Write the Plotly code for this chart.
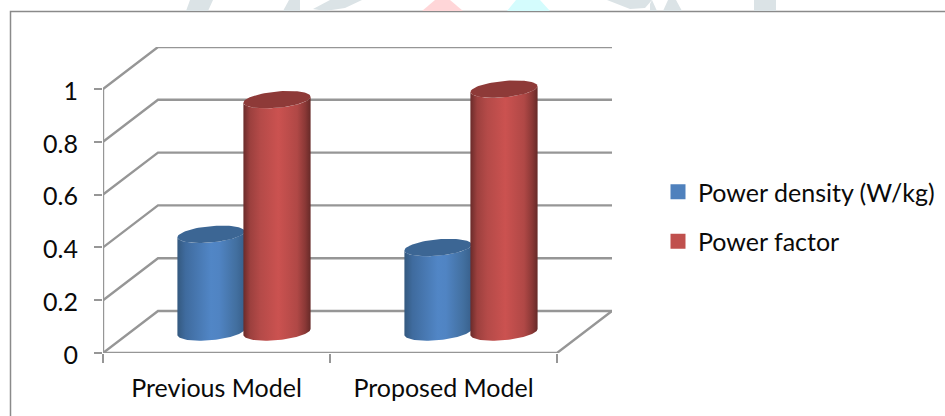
import numpy as np
import plotly.graph_objects as go

# Chart values
categories = ["Previous Model", "Proposed Model"]
series_names = ["Power density (W/kg)", "Power factor"]
power_density = [0.37, 0.32]
power_factor = [0.88, 0.92]
y_ticks = [0, 0.2, 0.4, 0.6, 0.8, 1]
y_tick_labels = ["0", "0.2", "0.4", "0.6", "0.8", "1"]

WIDTH, HEIGHT = 945, 416
FONT = "Lato"
FONT_SIZE = 25
TEXT = "#0a0a0a"
GRID = "#969696"

# Plot frame in pixels: the front face plus the receding wall
LEFT, RIGHT_FRONT, RIGHT_BACK = 103, 557, 612
BASE, TOP_FRONT, TOP_BACK = 353, 89, 47
X_UNIT = (RIGHT_FRONT - LEFT) / len(categories)
Y_UNIT = BASE - TOP_FRONT

# Oblique projection: one unit of depth shifts a point right and up, in axis units
DEPTH_X = (RIGHT_BACK - RIGHT_FRONT) / X_UNIT
DEPTH_Y = (TOP_FRONT - TOP_BACK) / Y_UNIT


def project(x, y, depth):
    return np.asarray(x) + DEPTH_X * np.asarray(depth), np.asarray(y) + DEPTH_Y * np.asarray(depth)


def polyline(segments):
    xs, ys = [], []
    for seg in segments:
        xs += [p[0] for p in seg] + [None]
        ys += [p[1] for p in seg] + [None]
    return xs, ys


fig = go.Figure()

# Back wall, side wall and floor rules
x_end = len(categories)
segments = []
for v in y_ticks:
    a = project(0, v, 0)
    b = project(0, v, 1)
    c = project(x_end, v, 1)
    segments.append([a, b, c])
segments.append([project(0, 0, 0), project(x_end, 0, 0), project(x_end, 0, 1)])
segments.append([project(0, 0, 0), project(0, 1, 0)])
xs, ys = polyline(segments)
fig.add_trace(go.Scatter(x=xs, y=ys, mode="lines", line=dict(color=GRID, width=2.4),
                         hoverinfo="skip", showlegend=False, cliponaxis=False))

# Cylinder footprint as a fraction of a category and of the depth
RADIUS_X = 31.6 / X_UNIT
RADIUS_DEPTH = 0.207
SPACING = 33 / X_UNIT

styles = [
    dict(cap="#3c6694", key="#4f81bd",
         scale=[[0, "#34597f"], [0.12, "#3f6b9e"], [0.5, "#5186c6"], [0.62, "#5084c3"],
                [0.88, "#426f9f"], [1, "#38608c"]]),
    dict(cap="#8e3a38", key="#c0504d",
         scale=[[0, "#6a2b2a"], [0.1, "#9c403e"], [0.25, "#b44a48"], [0.52, "#cb5250"],
                [0.8, "#b04846"], [0.92, "#8a3836"], [1, "#662a28"]]),
]


def ring(cx, value, t):
    return project(cx + RADIUS_X * np.cos(t), np.full_like(t, value), 0.5 + RADIUS_DEPTH * np.sin(t))


def add_cylinder(cx, value, style, name):
    # Silhouette angles: where the projected circle reaches its left and right extremes
    tilt = np.arctan2(RADIUS_DEPTH * DEPTH_X, RADIUS_X)
    front = np.linspace(np.pi + tilt, 2 * np.pi + tilt, 60)
    top_x, top_y = ring(cx, value, front)
    low_x, low_y = ring(cx, 0, front[::-1])
    fig.add_trace(go.Scatter(
        x=np.r_[top_x, low_x, top_x[0]], y=np.r_[top_y, low_y, top_y[0]],
        mode="lines", line=dict(width=0), fill="toself",
        fillgradient=dict(type="horizontal", colorscale=style["scale"]),
        name=name, hoverinfo="skip", showlegend=False, cliponaxis=False))
    t = np.linspace(0, 2 * np.pi, 80)
    cap_x, cap_y = ring(cx, value, t)
    fig.add_trace(go.Scatter(
        x=cap_x, y=cap_y, mode="lines", line=dict(width=0), fill="toself",
        fillcolor=style["cap"], name=name, showlegend=False, cliponaxis=False,
        hovertemplate=f"{name}: {value}<extra></extra>"))


for i, _ in enumerate(categories):
    for j, values in enumerate([power_density, power_factor]):
        offset = (j - 0.5) * 2 * SPACING
        add_cylinder(i + 0.5 + offset, values[i], styles[j], series_names[j])

# Legend keys
for j, name in enumerate(series_names):
    fig.add_trace(go.Scatter(x=[None], y=[None], mode="markers", name=name, legendgroup=name,
                             marker=dict(symbol="square", size=15, color=styles[j]["key"])))

# Chart frame and the faint emblem cut off above it
shapes = [
    dict(type="path", xref="paper", yref="paper", layer="below",
         path=f"M {10.5/WIDTH} 0 L {10.5/WIDTH} {1-11.5/HEIGHT} L 1 {1-11.5/HEIGHT}",
         line=dict(color="#8a8a8a", width=1.5)),
]
emblem = [
    ("#dbe3e6", [(190, 0), (213, 0), (208, 11), (186, 11)]),
    ("#dbe3e6", [(289, 0), (300, 0), (300, 11), (283, 11)]),
    ("#dbe3e6", [(330, 0), (362, 0), (345, 8), (325, 11), (313, 9)]),
    ("#ffd6d8", [(435, 0), (450, 0), (463, 11), (422, 11)]),
    ("#d4fcfd", [(516, 0), (540, 0), (550, 11), (507, 11)]),
    ("#dbe3e6", [(607, 0), (652, 0), (645, 8), (630, 9)]),
    ("#dbe3e6", [(652, 0), (657, 11), (650, 11), (650, 4)]),
    ("#dbe3e6", [(668, 0), (676, 0), (682, 11), (663, 11)]),
    ("#dbe3e6", [(754, 0), (776, 0), (776, 11), (754, 11)]),
]
for colour, pts in emblem:
    path = "M " + " L ".join(f"{px/WIDTH} {1-py/HEIGHT}" for px, py in pts) + " Z"
    shapes.append(dict(type="path", xref="paper", yref="paper", layer="below", path=path,
                       fillcolor=colour, line=dict(width=0)))

x_range_top = (RIGHT_BACK - LEFT) / X_UNIT
y_range_top = (BASE - TOP_BACK) / Y_UNIT

fig.update_layout(
    width=WIDTH, height=HEIGHT,
    margin=dict(l=0, r=0, t=0, b=0, pad=0),
    paper_bgcolor="white", plot_bgcolor="rgba(0,0,0,0)",
    font=dict(family=FONT, size=FONT_SIZE, color=TEXT),
    shapes=shapes,
    xaxis=dict(
        domain=[LEFT / WIDTH, RIGHT_BACK / WIDTH], range=[0, x_range_top], automargin=False,
        tickmode="array", tickvals=[i + 0.5 for i in range(len(categories))], ticktext=categories,
        ticks="", showgrid=False, zeroline=False, showline=False, ticklabelstandoff=18,
        tickfont=dict(family=FONT, size=FONT_SIZE, color=TEXT),
        minor=dict(tickmode="array", tickvals=list(range(len(categories) + 1)),
                   ticks="outside", ticklen=9, tickwidth=2, tickcolor=GRID, showgrid=False),
    ),
    yaxis=dict(
        domain=[(HEIGHT - BASE) / HEIGHT, (HEIGHT - TOP_BACK) / HEIGHT], range=[0, y_range_top],
        automargin=False,
        tickmode="array", tickvals=y_ticks, ticktext=y_tick_labels,
        ticks="outside", ticklen=8, tickwidth=2, tickcolor=GRID,
        showgrid=False, zeroline=False, showline=False, ticklabelstandoff=11, ticklabelshift=2,
        tickfont=dict(family=FONT, size=FONT_SIZE, color=TEXT),
    ),
    legend=dict(x=658 / WIDTH, xanchor="left", y=1 - 169 / HEIGHT, yanchor="top",
                bgcolor="rgba(0,0,0,0)", tracegroupgap=14, itemsizing="trace",
                font=dict(family=FONT, size=FONT_SIZE, color=TEXT)),
)

fig.write_html("out.html", config=dict(displayModeBar=False))
